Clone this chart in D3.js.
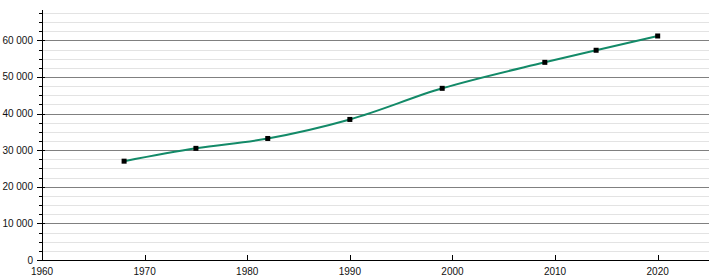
<!DOCTYPE html>
<html><head><meta charset="utf-8">
<script src="https://cdn.jsdelivr.net/npm/d3@7"></script>
<style>body{margin:0;background:#fff}svg{display:block;font-family:"Liberation Sans",Arial,sans-serif}</style>
</head><body><svg id="c" width="720" height="280"></svg>
<script>
const years = [1968, 1975, 1982, 1990, 1999, 2009, 2014, 2020];
const population = [27000, 30500, 33200, 38400, 46900, 54000, 57300, 61200];
const xTicks = [1960, 1970, 1980, 1990, 2000, 2010, 2020];
const yMajorTicks = [0, 10000, 20000, 30000, 40000, 50000, 60000];

const svg = d3.select("#c");
const x = d3.scaleLinear().domain([1960, 2025]).range([42, 709]);
const y = d3.scaleLinear().domain([0, 68300]).range([260, 10]);
const fmt = v => d3.format(",")(v).replace(/,/g, " ");

const minor = d3.range(0, 68300, 2500).filter(v => v % 10000 !== 0);
svg.append("g").selectAll("line").data(minor).join("line")
  .attr("x1", 42).attr("x2", 709).attr("y1", d => Math.round(y(d)) + 0.5).attr("y2", d => Math.round(y(d)) + 0.5)
  .attr("stroke", "#e3e3e3").attr("stroke-width", 1);
svg.append("g").selectAll("line").data(yMajorTicks.filter(d => d > 0)).join("line")
  .attr("x1", 42).attr("x2", 709).attr("y1", d => Math.round(y(d)) + 0.5).attr("y2", d => Math.round(y(d)) + 0.5)
  .attr("stroke", "#808080").attr("stroke-width", 1);

// y axis
const ya = svg.append("g");
ya.append("line").attr("x1", 42.5).attr("x2", 42.5).attr("y1", 10).attr("y2", 261).attr("stroke", "#000");
ya.selectAll(".mt").data(minor).join("line")
  .attr("x1", 39).attr("x2", 43).attr("y1", d => Math.round(y(d)) + 0.5).attr("y2", d => Math.round(y(d)) + 0.5).attr("stroke", "#000");
ya.selectAll(".Mt").data(yMajorTicks).join("line")
  .attr("x1", 37).attr("x2", 45).attr("y1", d => Math.round(y(d)) + 0.5).attr("y2", d => Math.round(y(d)) + 0.5).attr("stroke", "#000");
ya.selectAll("text").data(yMajorTicks).join("text")
  .attr("x", 33).attr("y", d => y(d) + 3.5).attr("text-anchor", "end")
  .attr("font-size", 10).attr("fill", "#111").text(fmt);

// x axis
const xa = svg.append("g");
xa.append("line").attr("x1", 42).attr("x2", 709).attr("y1", 260.5).attr("y2", 260.5).attr("stroke", "#000");
xa.selectAll("line.t").data(xTicks).join("line").attr("class","t")
  .attr("x1", d => Math.round(x(d)) + 0.5).attr("x2", d => Math.round(x(d)) + 0.5).attr("y1", 255).attr("y2", 261).attr("stroke", "#000");
xa.selectAll("text").data(xTicks).join("text")
  .attr("x", d => x(d)).attr("y", 275).attr("text-anchor", "middle")
  .attr("font-size", 10).attr("fill", "#111").text(d => d);

const pts = years.map((yr, i) => [yr, population[i]]);
svg.append("path").datum(pts)
  .attr("d", d3.line().x(d => x(d[0])).y(d => y(d[1])).curve(d3.curveMonotoneX))
  .attr("fill", "none").attr("stroke", "#138a68").attr("stroke-width", 2);
svg.append("g").selectAll("rect").data(pts).join("rect")
  .attr("x", d => x(d[0]) - 2.5).attr("y", d => y(d[1]) - 2.5).attr("width", 5).attr("height", 5).attr("fill", "#000");
</script></body></html>
